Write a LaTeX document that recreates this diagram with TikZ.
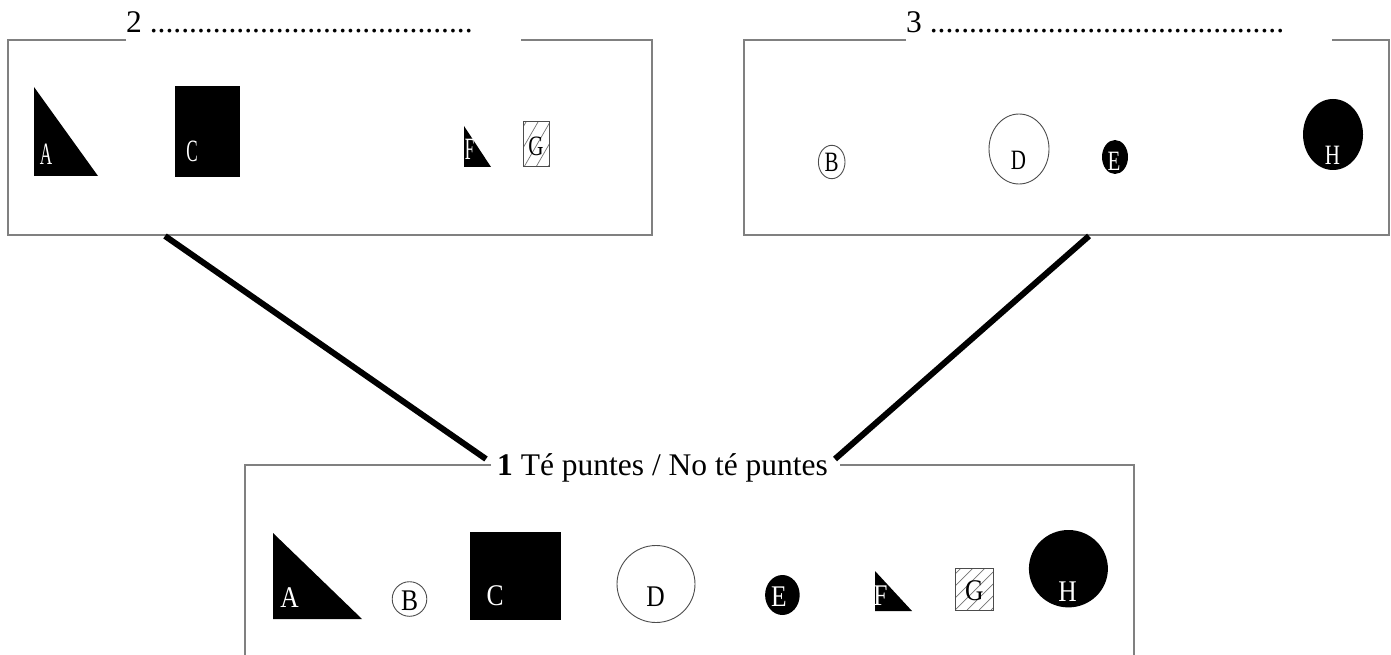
\documentclass[tikz,border=0pt]{standalone}
\usepackage{fontspec}
\setmainfont{Liberation Serif}
\newfontfamily\lletraestreta[FakeStretch=0.55]{Liberation Serif}
\newfontfamily\lletramitja[FakeStretch=0.75]{Liberation Serif}
\newfontfamily\lletraample[FakeStretch=0.85]{Liberation Serif}

\begin{document}
\begin{tikzpicture}[x=1pt,y=-1pt,
		caixa/.style={draw=black!50, line width=1.5pt},
		enllac/.style={line width=6pt},
		contorn/.style={draw=black!70, line width=0.9pt},
		ratlla/.style={draw=black!55, line width=0.7pt},
		titol/.style={anchor=base west, inner sep=0pt, font=\fontsize{31.5}{36}\selectfont},
		lletra/.style={anchor=base, inner sep=0pt},
		estreta/.style={lletra, font=\lletraestreta\fontsize{31}{32}\selectfont},
		mitja/.style={lletra, font=\lletramitja\fontsize{28}{30}\selectfont},
		ample/.style={lletra, font=\lletraample\fontsize{30}{32}\selectfont}]
			\useasboundingbox (0,0) rectangle (1391,655);
			% caixa 2
			\draw[caixa] (126,40) -- (8,40) -- (8,235) -- (652,235) -- (652,40) -- (521,40);
			\node[titol] (titol2) at (126,33) {2 .........................................};
			\fill (34,87) -- (34,176) -- (98,176) -- cycle;
			\node[estreta, text=white] (a2) at (46,165) {A};
			\fill (175,86) rectangle (240,177);
			\node[estreta, text=white] (c2) at (192,162) {C};
			\fill (464,126) -- (464,167) -- (491,167) -- cycle;
			\node[estreta, text=white] (f2) at (469.5,160) {F};
			\begin{scope}
				\clip (523,122) rectangle (549,167);
				\foreach \k in {488,500,...,548}
					\draw[ratlla] (\k,167) -- ++(26,-45);
			\end{scope}
			\draw[draw=black!70, line width=1pt] (523,122) rectangle (549,167);
			\node[mitja] (g2) at (536,155.5) {G};
			% caixa 3
			\draw[caixa] (906,40) -- (744,40) -- (744,235) -- (1389,235) -- (1389,40) -- (1332,40);
			\node[titol] (titol3) at (906,33) {3 .............................................};
			\draw[contorn] (831.7,162) ellipse [x radius=13.3, y radius=16.7];
			\node[mitja] (b3) at (831.7,172) {B};
			\draw[contorn] (1019,149) ellipse [x radius=30, y radius=35];
			\node[mitja] (d3) at (1018.5,170) {D};
			\fill (1115,157) ellipse [x radius=13, y radius=17];
			\node[mitja, text=white] (e3) at (1114,171) {E};
			\fill (1333,134.5) ellipse [x radius=30, y radius=35.5];
			\node[mitja, text=white] (h3) at (1332.5,165) {H};
			% caixa 1
			\draw[caixa] (491,465) -- (245,465) -- (245,665) -- (1134,665) -- (1134,465) -- (840,465);
			\node[titol] (titol1) at (497,475) {\textbf{1} Té puntes / No té puntes};
			\fill (273,533) -- (273,619) -- (362,619) -- cycle;
			\node[ample, text=white] (a1) at (289.5,607) {A};
			\draw[contorn] (409.5,599) circle [radius=17.3];
			\node[ample] (b1) at (409.5,610) {B};
			\fill (470,532) rectangle (561,620);
			\node[ample, text=white] (c1) at (495,605) {C};
			\draw[contorn] (656,584) ellipse [x radius=39, y radius=38.5];
			\node[ample] (d1) at (655.5,606.5) {D};
			\fill (782.4,595) ellipse [x radius=17.3, y radius=20];
			\node[ample, text=white] (e1) at (779,606.5) {E};
			\fill (875,571) -- (875,611) -- (912,611) -- cycle;
			\node[ample, text=white] (f1) at (880.5,605) {F};
			\begin{scope}
				\clip (955.5,568) rectangle (993.5,610);
				\foreach \k in {907,919,...,991}
					\draw[ratlla] (\k,610) -- ++(43,-43);
			\end{scope}
			\draw[draw=black!70, line width=1pt] (955.5,568) rectangle (993.5,610);
			\node[ample] (g1) at (974.3,600) {G};
			\fill (1068.4,568.7) ellipse [x radius=39.5, y radius=38.7];
			\node[ample, text=white] (h1) at (1067.5,601.5) {H};
			% enllacos
			\coordinate (baix2) at (165,236);
			\coordinate (baix3) at (1089,236);
			\coordinate (esq1) at (486,459);
			\coordinate (dre1) at (835,459);
			\draw[enllac] (baix2) -- (esq1);
			\draw[enllac] (baix3) -- (dre1);
		\end{tikzpicture}
\end{document}
